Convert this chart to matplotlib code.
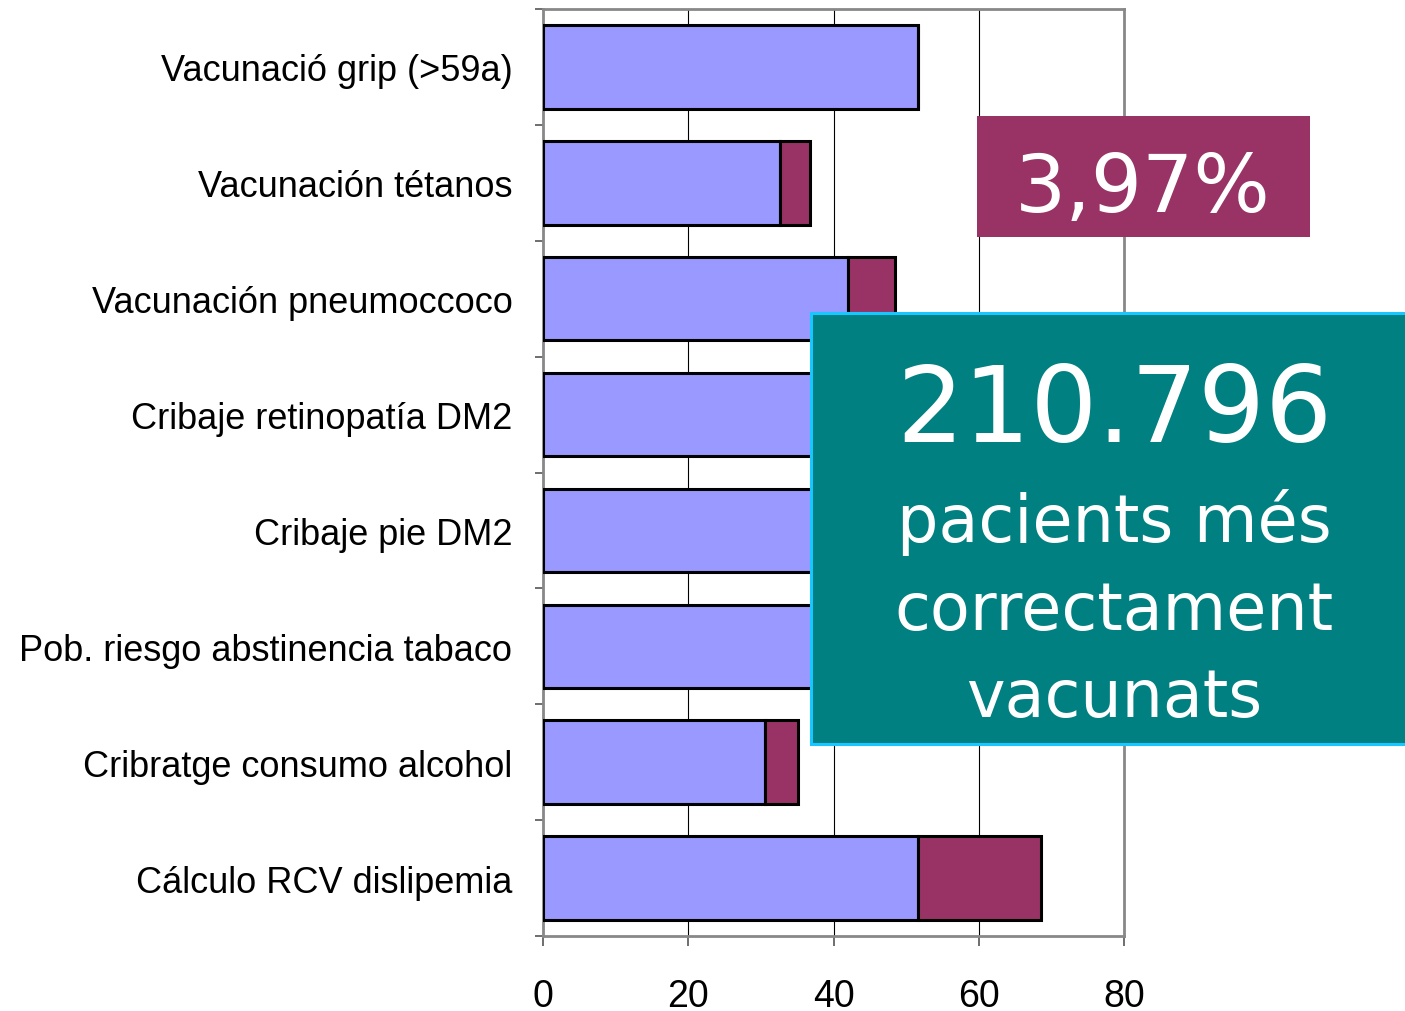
import matplotlib
matplotlib.use("Agg")
import matplotlib.pyplot as plt
from matplotlib.patches import Rectangle
import numpy as np

categories = [
    "Vacunació grip (>59a)",
    "Vacunación tétanos",
    "Vacunación pneumoccoco",
    "Cribaje retinopatía DM2",
    "Cribaje pie DM2",
    "Pob. riesgo abstinencia tabaco",
    "Cribratge consumo alcohol",
    "Cálculo RCV dislipemia",
]
base_values = [51.6, 32.6, 42.0, 47.0, 50.0, 40.0, 30.6, 51.6]
increase_values = [0.0, 4.2, 6.5, 8.0, 6.0, 4.0, 4.5, 17.0]
x_ticks = [0, 20, 40, 60, 80]
badge_text = "3,97%"
box_lines = ["210.796", "pacients més", "correctament", "vacunats"]

W, H = 1405, 1012
fig = plt.figure(figsize=(W / 100, H / 100), dpi=100)
ax = fig.add_axes([543 / W, 1 - 937 / H, (1124 - 543) / W, (937 - 10) / H])

y = np.arange(len(categories))
bh = 0.72
ax.barh(y, base_values, height=bh, color="#9999FF", edgecolor="black", linewidth=2.2, zorder=3)
ax.barh(y, increase_values, left=base_values, height=bh, color="#993366",
        edgecolor="black", linewidth=2.2, zorder=3)

ax.set_xlim(0, 80)
ax.set_ylim(len(categories) - 0.5, -0.5)
ax.set_xticks(x_ticks)
ax.set_xticklabels([str(t) for t in x_ticks], fontsize=27, family="Liberation Sans")
ax.set_yticks(y)
ax.set_yticklabels(categories, fontsize=26, family="Liberation Sans")
ax.set_yticks(np.arange(len(categories) + 1) - 0.5, minor=True)
ax.tick_params(axis="y", which="major", length=0, pad=22)
ax.tick_params(axis="y", which="minor", length=6, width=1.2, color="#555555")
ax.tick_params(axis="x", which="major", length=7, width=1.2, color="#555555", pad=23)
ax.grid(axis="x", color="black", linewidth=0.8, zorder=0)
for s in ax.spines.values():
    s.set_color("#888888")
    s.set_linewidth(2)

def fx(px):
    return px / W

def fy(py):
    return 1 - py / H

badge = Rectangle((fx(977), fy(238)), fx(1310) - fx(977), fy(117) - fy(238),
                  transform=fig.transFigure, facecolor="#993366", edgecolor="none", zorder=10)
fig.patches.append(badge)
fig.text(fx(1143), fy(212), badge_text, color="white", fontsize=58, family="DejaVu Sans",
         ha="center", va="baseline", zorder=11)

box = Rectangle((fx(811), fy(745)), fx(1420) - fx(811), fy(314) - fy(745),
                transform=fig.transFigure, facecolor="#008080", edgecolor="#1AC6FF",
                linewidth=2.2, zorder=10)
fig.patches.append(box)
baselines = [442, 542, 630, 717]
sizes = [76, 47, 47, 47]
for txt, b, s in zip(box_lines, baselines, sizes):
    fig.text(fx(1114), fy(b), txt, color="white", fontsize=s, family="DejaVu Sans",
             ha="center", va="baseline", zorder=11)

fig.savefig("out.png", dpi=100)
